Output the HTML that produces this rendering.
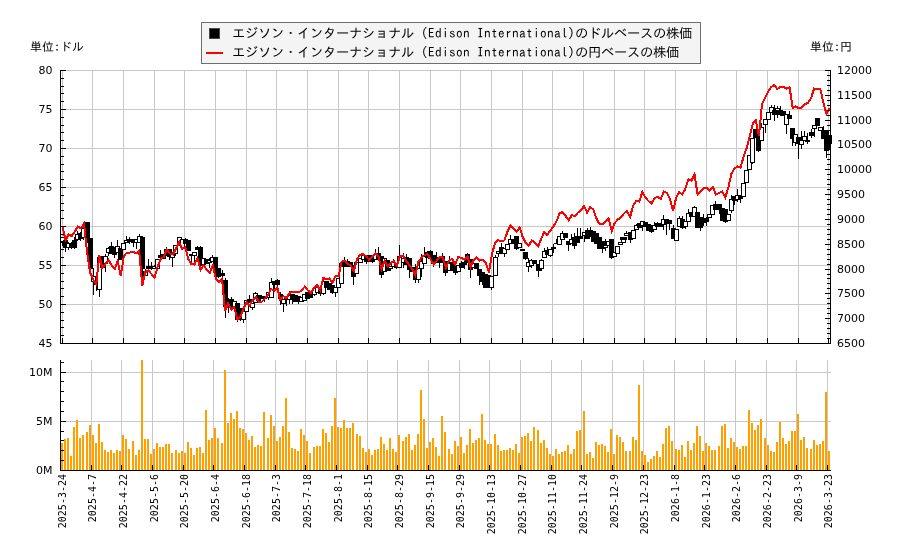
<!DOCTYPE html>
<html lang="ja"><head><meta charset="utf-8"><title>Edison International</title>
<style>
html,body{margin:0;padding:0;background:#fff;}
#c{position:relative;width:900px;height:550px;overflow:hidden;background:#fff;font-family:"DejaVu Sans","Liberation Sans",sans-serif;color:#000;}
#c svg{position:absolute;left:0;top:0;}
.tl,.tr{position:absolute;font-size:11px;line-height:14px;height:14px;white-space:nowrap;}
.tl{right:847.5px;text-align:right;}
.tr{left:837px;}
.dt{position:absolute;top:474px;font-family:"DejaVu Sans Mono","Liberation Mono",monospace;font-size:10px;line-height:10px;height:10px;white-space:nowrap;transform-origin:0 0;transform:rotate(-90deg) translate(-100%,-50%);}
.jp{position:absolute;font-family:"IPAGothic","Liberation Sans","Noto Sans CJK JP",sans-serif;font-size:12px;line-height:14px;white-space:nowrap;}
#lg{position:absolute;left:201px;top:22px;width:498px;height:40px;border:1px solid #6e6e6e;background:#f4f4f4;}
.lt{position:absolute;left:232px;font-family:"IPAGothic","Liberation Sans","Noto Sans CJK JP",sans-serif;font-size:13.33px;line-height:16px;white-space:nowrap;letter-spacing:-0.33px;}
.lt .en{letter-spacing:0.335px;}
#txt{position:absolute;left:0;top:0;width:900px;height:550px;will-change:transform;}
</style></head><body>
<div id="c">
<svg width="900" height="550" viewBox="0 0 900 550" shape-rendering="crispEdges">
<rect x="60" y="70" width="771" height="1" fill="#c8c8c8"/>
<rect x="60" y="109" width="771" height="1" fill="#c8c8c8"/>
<rect x="60" y="148" width="771" height="1" fill="#c8c8c8"/>
<rect x="60" y="187" width="771" height="1" fill="#c8c8c8"/>
<rect x="60" y="226" width="771" height="1" fill="#c8c8c8"/>
<rect x="60" y="265" width="771" height="1" fill="#c8c8c8"/>
<rect x="60" y="304" width="771" height="1" fill="#c8c8c8"/>
<rect x="60" y="343" width="771" height="1" fill="#c8c8c8"/>
<rect x="62" y="70" width="1" height="273" fill="#c8c8c8"/>
<rect x="92" y="70" width="1" height="273" fill="#c8c8c8"/>
<rect x="123" y="70" width="1" height="273" fill="#c8c8c8"/>
<rect x="154" y="70" width="1" height="273" fill="#c8c8c8"/>
<rect x="184" y="70" width="1" height="273" fill="#c8c8c8"/>
<rect x="215" y="70" width="1" height="273" fill="#c8c8c8"/>
<rect x="246" y="70" width="1" height="273" fill="#c8c8c8"/>
<rect x="276" y="70" width="1" height="273" fill="#c8c8c8"/>
<rect x="307" y="70" width="1" height="273" fill="#c8c8c8"/>
<rect x="338" y="70" width="1" height="273" fill="#c8c8c8"/>
<rect x="368" y="70" width="1" height="273" fill="#c8c8c8"/>
<rect x="399" y="70" width="1" height="273" fill="#c8c8c8"/>
<rect x="430" y="70" width="1" height="273" fill="#c8c8c8"/>
<rect x="460" y="70" width="1" height="273" fill="#c8c8c8"/>
<rect x="491" y="70" width="1" height="273" fill="#c8c8c8"/>
<rect x="522" y="70" width="1" height="273" fill="#c8c8c8"/>
<rect x="552" y="70" width="1" height="273" fill="#c8c8c8"/>
<rect x="583" y="70" width="1" height="273" fill="#c8c8c8"/>
<rect x="614" y="70" width="1" height="273" fill="#c8c8c8"/>
<rect x="644" y="70" width="1" height="273" fill="#c8c8c8"/>
<rect x="675" y="70" width="1" height="273" fill="#c8c8c8"/>
<rect x="706" y="70" width="1" height="273" fill="#c8c8c8"/>
<rect x="736" y="70" width="1" height="273" fill="#c8c8c8"/>
<rect x="767" y="70" width="1" height="273" fill="#c8c8c8"/>
<rect x="798" y="70" width="1" height="273" fill="#c8c8c8"/>
<rect x="828" y="70" width="1" height="273" fill="#c8c8c8"/>
<rect x="60" y="372" width="771" height="1" fill="#c8c8c8"/>
<rect x="60" y="421" width="771" height="1" fill="#c8c8c8"/>
<rect x="60" y="360" width="1" height="110" fill="#c8c8c8"/>
<rect x="91" y="360" width="1" height="110" fill="#c8c8c8"/>
<rect x="121" y="360" width="1" height="110" fill="#c8c8c8"/>
<rect x="152" y="360" width="1" height="110" fill="#c8c8c8"/>
<rect x="183" y="360" width="1" height="110" fill="#c8c8c8"/>
<rect x="213" y="360" width="1" height="110" fill="#c8c8c8"/>
<rect x="244" y="360" width="1" height="110" fill="#c8c8c8"/>
<rect x="275" y="360" width="1" height="110" fill="#c8c8c8"/>
<rect x="305" y="360" width="1" height="110" fill="#c8c8c8"/>
<rect x="336" y="360" width="1" height="110" fill="#c8c8c8"/>
<rect x="367" y="360" width="1" height="110" fill="#c8c8c8"/>
<rect x="397" y="360" width="1" height="110" fill="#c8c8c8"/>
<rect x="428" y="360" width="1" height="110" fill="#c8c8c8"/>
<rect x="459" y="360" width="1" height="110" fill="#c8c8c8"/>
<rect x="489" y="360" width="1" height="110" fill="#c8c8c8"/>
<rect x="520" y="360" width="1" height="110" fill="#c8c8c8"/>
<rect x="551" y="360" width="1" height="110" fill="#c8c8c8"/>
<rect x="581" y="360" width="1" height="110" fill="#c8c8c8"/>
<rect x="612" y="360" width="1" height="110" fill="#c8c8c8"/>
<rect x="643" y="360" width="1" height="110" fill="#c8c8c8"/>
<rect x="674" y="360" width="1" height="110" fill="#c8c8c8"/>
<rect x="704" y="360" width="1" height="110" fill="#c8c8c8"/>
<rect x="735" y="360" width="1" height="110" fill="#c8c8c8"/>
<rect x="766" y="360" width="1" height="110" fill="#c8c8c8"/>
<rect x="796" y="360" width="1" height="110" fill="#c8c8c8"/>
<rect x="827" y="360" width="1" height="110" fill="#c8c8c8"/>
<rect x="61" y="443" width="2" height="27" fill="#ffa000"/>
<rect x="64" y="439" width="2" height="31" fill="#ffa000"/>
<rect x="67" y="438" width="2" height="32" fill="#ffa000"/>
<rect x="70" y="456" width="2" height="14" fill="#ffa000"/>
<rect x="73" y="427" width="2" height="43" fill="#ffa000"/>
<rect x="76" y="420" width="2" height="50" fill="#ffa000"/>
<rect x="79" y="438" width="2" height="32" fill="#ffa000"/>
<rect x="82" y="435" width="2" height="35" fill="#ffa000"/>
<rect x="86" y="432" width="2" height="38" fill="#ffa000"/>
<rect x="89" y="425" width="2" height="45" fill="#ffa000"/>
<rect x="92" y="435" width="2" height="35" fill="#ffa000"/>
<rect x="95" y="443" width="2" height="27" fill="#ffa000"/>
<rect x="98" y="424" width="2" height="46" fill="#ffa000"/>
<rect x="101" y="442" width="2" height="28" fill="#ffa000"/>
<rect x="104" y="450" width="2" height="20" fill="#ffa000"/>
<rect x="107" y="452" width="2" height="18" fill="#ffa000"/>
<rect x="110" y="450" width="2" height="20" fill="#ffa000"/>
<rect x="113" y="453" width="2" height="17" fill="#ffa000"/>
<rect x="116" y="450" width="2" height="20" fill="#ffa000"/>
<rect x="119" y="451" width="2" height="19" fill="#ffa000"/>
<rect x="122" y="435" width="2" height="35" fill="#ffa000"/>
<rect x="125" y="439" width="2" height="31" fill="#ffa000"/>
<rect x="128" y="449" width="2" height="21" fill="#ffa000"/>
<rect x="132" y="441" width="2" height="29" fill="#ffa000"/>
<rect x="135" y="455" width="2" height="15" fill="#ffa000"/>
<rect x="138" y="450" width="2" height="20" fill="#ffa000"/>
<rect x="141" y="360" width="2" height="110" fill="#ffa000"/>
<rect x="144" y="439" width="2" height="31" fill="#ffa000"/>
<rect x="147" y="439" width="2" height="31" fill="#ffa000"/>
<rect x="150" y="454" width="2" height="16" fill="#ffa000"/>
<rect x="153" y="449" width="2" height="21" fill="#ffa000"/>
<rect x="156" y="443" width="2" height="27" fill="#ffa000"/>
<rect x="159" y="447" width="2" height="23" fill="#ffa000"/>
<rect x="162" y="447" width="2" height="23" fill="#ffa000"/>
<rect x="165" y="444" width="2" height="26" fill="#ffa000"/>
<rect x="168" y="444" width="2" height="26" fill="#ffa000"/>
<rect x="171" y="453" width="2" height="17" fill="#ffa000"/>
<rect x="175" y="450" width="2" height="20" fill="#ffa000"/>
<rect x="178" y="453" width="2" height="17" fill="#ffa000"/>
<rect x="181" y="451" width="2" height="19" fill="#ffa000"/>
<rect x="184" y="453" width="2" height="17" fill="#ffa000"/>
<rect x="187" y="442" width="2" height="28" fill="#ffa000"/>
<rect x="190" y="448" width="2" height="22" fill="#ffa000"/>
<rect x="193" y="455" width="2" height="15" fill="#ffa000"/>
<rect x="196" y="448" width="2" height="22" fill="#ffa000"/>
<rect x="199" y="447" width="2" height="23" fill="#ffa000"/>
<rect x="202" y="453" width="2" height="17" fill="#ffa000"/>
<rect x="205" y="410" width="2" height="60" fill="#ffa000"/>
<rect x="208" y="440" width="2" height="30" fill="#ffa000"/>
<rect x="211" y="438" width="2" height="32" fill="#ffa000"/>
<rect x="214" y="428" width="2" height="42" fill="#ffa000"/>
<rect x="217" y="438" width="2" height="32" fill="#ffa000"/>
<rect x="221" y="443" width="2" height="27" fill="#ffa000"/>
<rect x="224" y="370" width="2" height="100" fill="#ffa000"/>
<rect x="227" y="423" width="2" height="47" fill="#ffa000"/>
<rect x="230" y="413" width="2" height="57" fill="#ffa000"/>
<rect x="233" y="419" width="2" height="51" fill="#ffa000"/>
<rect x="236" y="411" width="2" height="59" fill="#ffa000"/>
<rect x="239" y="428" width="2" height="42" fill="#ffa000"/>
<rect x="242" y="429" width="2" height="41" fill="#ffa000"/>
<rect x="245" y="433" width="2" height="37" fill="#ffa000"/>
<rect x="248" y="440" width="2" height="30" fill="#ffa000"/>
<rect x="251" y="436" width="2" height="34" fill="#ffa000"/>
<rect x="254" y="447" width="2" height="23" fill="#ffa000"/>
<rect x="257" y="445" width="2" height="25" fill="#ffa000"/>
<rect x="260" y="446" width="2" height="24" fill="#ffa000"/>
<rect x="263" y="412" width="2" height="58" fill="#ffa000"/>
<rect x="267" y="438" width="2" height="32" fill="#ffa000"/>
<rect x="270" y="415" width="2" height="55" fill="#ffa000"/>
<rect x="273" y="426" width="2" height="44" fill="#ffa000"/>
<rect x="276" y="441" width="2" height="29" fill="#ffa000"/>
<rect x="279" y="437" width="2" height="33" fill="#ffa000"/>
<rect x="282" y="426" width="2" height="44" fill="#ffa000"/>
<rect x="285" y="398" width="2" height="72" fill="#ffa000"/>
<rect x="288" y="432" width="2" height="38" fill="#ffa000"/>
<rect x="291" y="448" width="2" height="22" fill="#ffa000"/>
<rect x="294" y="449" width="2" height="21" fill="#ffa000"/>
<rect x="297" y="451" width="2" height="19" fill="#ffa000"/>
<rect x="300" y="429" width="2" height="41" fill="#ffa000"/>
<rect x="303" y="435" width="2" height="35" fill="#ffa000"/>
<rect x="306" y="441" width="2" height="29" fill="#ffa000"/>
<rect x="309" y="453" width="2" height="17" fill="#ffa000"/>
<rect x="313" y="447" width="2" height="23" fill="#ffa000"/>
<rect x="316" y="446" width="2" height="24" fill="#ffa000"/>
<rect x="319" y="446" width="2" height="24" fill="#ffa000"/>
<rect x="322" y="429" width="2" height="41" fill="#ffa000"/>
<rect x="325" y="433" width="2" height="37" fill="#ffa000"/>
<rect x="328" y="442" width="2" height="28" fill="#ffa000"/>
<rect x="331" y="426" width="2" height="44" fill="#ffa000"/>
<rect x="334" y="398" width="2" height="72" fill="#ffa000"/>
<rect x="337" y="427" width="2" height="43" fill="#ffa000"/>
<rect x="340" y="428" width="2" height="42" fill="#ffa000"/>
<rect x="343" y="420" width="2" height="50" fill="#ffa000"/>
<rect x="346" y="428" width="2" height="42" fill="#ffa000"/>
<rect x="349" y="428" width="2" height="42" fill="#ffa000"/>
<rect x="352" y="423" width="2" height="47" fill="#ffa000"/>
<rect x="356" y="434" width="2" height="36" fill="#ffa000"/>
<rect x="359" y="436" width="2" height="34" fill="#ffa000"/>
<rect x="362" y="448" width="2" height="22" fill="#ffa000"/>
<rect x="365" y="452" width="2" height="18" fill="#ffa000"/>
<rect x="368" y="449" width="2" height="21" fill="#ffa000"/>
<rect x="371" y="455" width="2" height="15" fill="#ffa000"/>
<rect x="374" y="450" width="2" height="20" fill="#ffa000"/>
<rect x="377" y="449" width="2" height="21" fill="#ffa000"/>
<rect x="380" y="437" width="2" height="33" fill="#ffa000"/>
<rect x="383" y="444" width="2" height="26" fill="#ffa000"/>
<rect x="386" y="450" width="2" height="20" fill="#ffa000"/>
<rect x="389" y="438" width="2" height="32" fill="#ffa000"/>
<rect x="392" y="449" width="2" height="21" fill="#ffa000"/>
<rect x="395" y="452" width="2" height="18" fill="#ffa000"/>
<rect x="398" y="435" width="2" height="35" fill="#ffa000"/>
<rect x="402" y="441" width="2" height="29" fill="#ffa000"/>
<rect x="405" y="437" width="2" height="33" fill="#ffa000"/>
<rect x="408" y="434" width="2" height="36" fill="#ffa000"/>
<rect x="411" y="450" width="2" height="20" fill="#ffa000"/>
<rect x="414" y="445" width="2" height="25" fill="#ffa000"/>
<rect x="417" y="434" width="2" height="36" fill="#ffa000"/>
<rect x="420" y="390" width="2" height="80" fill="#ffa000"/>
<rect x="423" y="419" width="2" height="51" fill="#ffa000"/>
<rect x="426" y="448" width="2" height="22" fill="#ffa000"/>
<rect x="429" y="442" width="2" height="28" fill="#ffa000"/>
<rect x="432" y="438" width="2" height="32" fill="#ffa000"/>
<rect x="435" y="447" width="2" height="23" fill="#ffa000"/>
<rect x="438" y="456" width="2" height="14" fill="#ffa000"/>
<rect x="441" y="416" width="2" height="54" fill="#ffa000"/>
<rect x="444" y="432" width="2" height="38" fill="#ffa000"/>
<rect x="448" y="449" width="2" height="21" fill="#ffa000"/>
<rect x="451" y="454" width="2" height="16" fill="#ffa000"/>
<rect x="454" y="441" width="2" height="29" fill="#ffa000"/>
<rect x="457" y="446" width="2" height="24" fill="#ffa000"/>
<rect x="460" y="437" width="2" height="33" fill="#ffa000"/>
<rect x="463" y="453" width="2" height="17" fill="#ffa000"/>
<rect x="466" y="445" width="2" height="25" fill="#ffa000"/>
<rect x="469" y="429" width="2" height="41" fill="#ffa000"/>
<rect x="472" y="443" width="2" height="27" fill="#ffa000"/>
<rect x="475" y="440" width="2" height="30" fill="#ffa000"/>
<rect x="478" y="438" width="2" height="32" fill="#ffa000"/>
<rect x="481" y="414" width="2" height="56" fill="#ffa000"/>
<rect x="484" y="440" width="2" height="30" fill="#ffa000"/>
<rect x="487" y="444" width="2" height="26" fill="#ffa000"/>
<rect x="490" y="444" width="2" height="26" fill="#ffa000"/>
<rect x="494" y="434" width="2" height="36" fill="#ffa000"/>
<rect x="497" y="445" width="2" height="25" fill="#ffa000"/>
<rect x="500" y="451" width="2" height="19" fill="#ffa000"/>
<rect x="503" y="450" width="2" height="20" fill="#ffa000"/>
<rect x="506" y="450" width="2" height="20" fill="#ffa000"/>
<rect x="509" y="448" width="2" height="22" fill="#ffa000"/>
<rect x="512" y="450" width="2" height="20" fill="#ffa000"/>
<rect x="515" y="444" width="2" height="26" fill="#ffa000"/>
<rect x="518" y="453" width="2" height="17" fill="#ffa000"/>
<rect x="521" y="437" width="2" height="33" fill="#ffa000"/>
<rect x="524" y="436" width="2" height="34" fill="#ffa000"/>
<rect x="527" y="433" width="2" height="37" fill="#ffa000"/>
<rect x="530" y="441" width="2" height="29" fill="#ffa000"/>
<rect x="533" y="427" width="2" height="43" fill="#ffa000"/>
<rect x="537" y="430" width="2" height="40" fill="#ffa000"/>
<rect x="540" y="443" width="2" height="27" fill="#ffa000"/>
<rect x="543" y="440" width="2" height="30" fill="#ffa000"/>
<rect x="546" y="448" width="2" height="22" fill="#ffa000"/>
<rect x="549" y="454" width="2" height="16" fill="#ffa000"/>
<rect x="552" y="456" width="2" height="14" fill="#ffa000"/>
<rect x="555" y="449" width="2" height="21" fill="#ffa000"/>
<rect x="558" y="454" width="2" height="16" fill="#ffa000"/>
<rect x="561" y="452" width="2" height="18" fill="#ffa000"/>
<rect x="564" y="451" width="2" height="19" fill="#ffa000"/>
<rect x="567" y="445" width="2" height="25" fill="#ffa000"/>
<rect x="570" y="454" width="2" height="16" fill="#ffa000"/>
<rect x="573" y="449" width="2" height="21" fill="#ffa000"/>
<rect x="576" y="431" width="2" height="39" fill="#ffa000"/>
<rect x="579" y="430" width="2" height="40" fill="#ffa000"/>
<rect x="583" y="411" width="2" height="59" fill="#ffa000"/>
<rect x="586" y="454" width="2" height="16" fill="#ffa000"/>
<rect x="589" y="452" width="2" height="18" fill="#ffa000"/>
<rect x="592" y="458" width="2" height="12" fill="#ffa000"/>
<rect x="595" y="442" width="2" height="28" fill="#ffa000"/>
<rect x="598" y="445" width="2" height="25" fill="#ffa000"/>
<rect x="601" y="444" width="2" height="26" fill="#ffa000"/>
<rect x="604" y="446" width="2" height="24" fill="#ffa000"/>
<rect x="607" y="452" width="2" height="18" fill="#ffa000"/>
<rect x="610" y="429" width="2" height="41" fill="#ffa000"/>
<rect x="613" y="454" width="2" height="16" fill="#ffa000"/>
<rect x="616" y="435" width="2" height="35" fill="#ffa000"/>
<rect x="619" y="437" width="2" height="33" fill="#ffa000"/>
<rect x="622" y="442" width="2" height="28" fill="#ffa000"/>
<rect x="625" y="451" width="2" height="19" fill="#ffa000"/>
<rect x="629" y="451" width="2" height="19" fill="#ffa000"/>
<rect x="632" y="437" width="2" height="33" fill="#ffa000"/>
<rect x="635" y="440" width="2" height="30" fill="#ffa000"/>
<rect x="638" y="385" width="2" height="85" fill="#ffa000"/>
<rect x="641" y="451" width="2" height="19" fill="#ffa000"/>
<rect x="644" y="455" width="2" height="15" fill="#ffa000"/>
<rect x="647" y="462" width="2" height="8" fill="#ffa000"/>
<rect x="650" y="459" width="2" height="11" fill="#ffa000"/>
<rect x="653" y="456" width="2" height="14" fill="#ffa000"/>
<rect x="656" y="451" width="2" height="19" fill="#ffa000"/>
<rect x="659" y="457" width="2" height="13" fill="#ffa000"/>
<rect x="662" y="444" width="2" height="26" fill="#ffa000"/>
<rect x="665" y="428" width="2" height="42" fill="#ffa000"/>
<rect x="668" y="426" width="2" height="44" fill="#ffa000"/>
<rect x="671" y="441" width="2" height="29" fill="#ffa000"/>
<rect x="675" y="449" width="2" height="21" fill="#ffa000"/>
<rect x="678" y="450" width="2" height="20" fill="#ffa000"/>
<rect x="681" y="445" width="2" height="25" fill="#ffa000"/>
<rect x="684" y="457" width="2" height="13" fill="#ffa000"/>
<rect x="687" y="441" width="2" height="29" fill="#ffa000"/>
<rect x="690" y="450" width="2" height="20" fill="#ffa000"/>
<rect x="693" y="443" width="2" height="27" fill="#ffa000"/>
<rect x="696" y="426" width="2" height="44" fill="#ffa000"/>
<rect x="699" y="436" width="2" height="34" fill="#ffa000"/>
<rect x="702" y="451" width="2" height="19" fill="#ffa000"/>
<rect x="705" y="443" width="2" height="27" fill="#ffa000"/>
<rect x="708" y="446" width="2" height="24" fill="#ffa000"/>
<rect x="711" y="450" width="2" height="20" fill="#ffa000"/>
<rect x="714" y="450" width="2" height="20" fill="#ffa000"/>
<rect x="718" y="446" width="2" height="24" fill="#ffa000"/>
<rect x="721" y="426" width="2" height="44" fill="#ffa000"/>
<rect x="724" y="424" width="2" height="46" fill="#ffa000"/>
<rect x="727" y="448" width="2" height="22" fill="#ffa000"/>
<rect x="730" y="438" width="2" height="32" fill="#ffa000"/>
<rect x="733" y="442" width="2" height="28" fill="#ffa000"/>
<rect x="736" y="447" width="2" height="23" fill="#ffa000"/>
<rect x="739" y="449" width="2" height="21" fill="#ffa000"/>
<rect x="742" y="446" width="2" height="24" fill="#ffa000"/>
<rect x="745" y="446" width="2" height="24" fill="#ffa000"/>
<rect x="748" y="410" width="2" height="60" fill="#ffa000"/>
<rect x="751" y="423" width="2" height="47" fill="#ffa000"/>
<rect x="754" y="430" width="2" height="40" fill="#ffa000"/>
<rect x="757" y="425" width="2" height="45" fill="#ffa000"/>
<rect x="760" y="419" width="2" height="51" fill="#ffa000"/>
<rect x="764" y="438" width="2" height="32" fill="#ffa000"/>
<rect x="767" y="445" width="2" height="25" fill="#ffa000"/>
<rect x="770" y="451" width="2" height="19" fill="#ffa000"/>
<rect x="773" y="452" width="2" height="18" fill="#ffa000"/>
<rect x="776" y="442" width="2" height="28" fill="#ffa000"/>
<rect x="779" y="422" width="2" height="48" fill="#ffa000"/>
<rect x="782" y="438" width="2" height="32" fill="#ffa000"/>
<rect x="785" y="444" width="2" height="26" fill="#ffa000"/>
<rect x="788" y="441" width="2" height="29" fill="#ffa000"/>
<rect x="791" y="431" width="2" height="39" fill="#ffa000"/>
<rect x="794" y="431" width="2" height="39" fill="#ffa000"/>
<rect x="797" y="414" width="2" height="56" fill="#ffa000"/>
<rect x="800" y="440" width="2" height="30" fill="#ffa000"/>
<rect x="803" y="437" width="2" height="33" fill="#ffa000"/>
<rect x="806" y="448" width="2" height="22" fill="#ffa000"/>
<rect x="810" y="449" width="2" height="21" fill="#ffa000"/>
<rect x="813" y="440" width="2" height="30" fill="#ffa000"/>
<rect x="816" y="445" width="2" height="25" fill="#ffa000"/>
<rect x="819" y="444" width="2" height="26" fill="#ffa000"/>
<rect x="822" y="441" width="2" height="29" fill="#ffa000"/>
<rect x="825" y="392" width="2" height="78" fill="#ffa000"/>
<rect x="828" y="451" width="2" height="19" fill="#ffa000"/>
<rect x="62" y="237" width="1" height="9" fill="#000"/>
<rect x="60" y="237" width="5" height="5" fill="#000"/>
<rect x="61" y="238" width="3" height="3" fill="#fff"/>
<rect x="65" y="239" width="1" height="13" fill="#000"/>
<rect x="63" y="240" width="5" height="8" fill="#000"/>
<rect x="68" y="242" width="1" height="8" fill="#000"/>
<rect x="66" y="243" width="5" height="5" fill="#000"/>
<rect x="67" y="244" width="3" height="3" fill="#fff"/>
<rect x="71" y="242" width="1" height="7" fill="#000"/>
<rect x="69" y="243" width="5" height="5" fill="#000"/>
<rect x="74" y="237" width="1" height="12" fill="#000"/>
<rect x="72" y="240" width="5" height="8" fill="#000"/>
<rect x="77" y="231" width="1" height="10" fill="#000"/>
<rect x="75" y="234" width="5" height="6" fill="#000"/>
<rect x="76" y="235" width="3" height="4" fill="#fff"/>
<rect x="80" y="232" width="1" height="9" fill="#000"/>
<rect x="78" y="233" width="5" height="6" fill="#000"/>
<rect x="83" y="227" width="1" height="13" fill="#000"/>
<rect x="81" y="228" width="5" height="10" fill="#000"/>
<rect x="82" y="229" width="3" height="8" fill="#fff"/>
<rect x="87" y="222" width="1" height="21" fill="#000"/>
<rect x="85" y="222" width="5" height="19" fill="#000"/>
<rect x="90" y="238" width="1" height="33" fill="#000"/>
<rect x="88" y="238" width="5" height="31" fill="#000"/>
<rect x="93" y="268" width="1" height="27" fill="#000"/>
<rect x="91" y="276" width="5" height="6" fill="#000"/>
<rect x="92" y="277" width="3" height="4" fill="#fff"/>
<rect x="96" y="280" width="1" height="11" fill="#000"/>
<rect x="94" y="281" width="5" height="4" fill="#000"/>
<rect x="99" y="257" width="1" height="40" fill="#000"/>
<rect x="97" y="257" width="5" height="33" fill="#000"/>
<rect x="98" y="258" width="3" height="31" fill="#fff"/>
<rect x="102" y="256" width="1" height="12" fill="#000"/>
<rect x="100" y="256" width="5" height="12" fill="#000"/>
<rect x="105" y="254" width="1" height="18" fill="#000"/>
<rect x="103" y="256" width="5" height="8" fill="#000"/>
<rect x="104" y="257" width="3" height="6" fill="#fff"/>
<rect x="108" y="247" width="1" height="9" fill="#000"/>
<rect x="106" y="248" width="5" height="5" fill="#000"/>
<rect x="107" y="249" width="3" height="3" fill="#fff"/>
<rect x="111" y="242" width="1" height="12" fill="#000"/>
<rect x="109" y="246" width="5" height="8" fill="#000"/>
<rect x="114" y="247" width="1" height="11" fill="#000"/>
<rect x="112" y="247" width="5" height="8" fill="#000"/>
<rect x="117" y="240" width="1" height="13" fill="#000"/>
<rect x="115" y="246" width="5" height="7" fill="#000"/>
<rect x="116" y="247" width="3" height="5" fill="#fff"/>
<rect x="120" y="248" width="1" height="12" fill="#000"/>
<rect x="118" y="248" width="5" height="12" fill="#000"/>
<rect x="123" y="243" width="1" height="7" fill="#000"/>
<rect x="121" y="243" width="5" height="7" fill="#000"/>
<rect x="122" y="244" width="3" height="5" fill="#fff"/>
<rect x="126" y="236" width="1" height="7" fill="#000"/>
<rect x="124" y="240" width="5" height="3" fill="#000"/>
<rect x="125" y="241" width="3" height="1" fill="#fff"/>
<rect x="129" y="237" width="1" height="7" fill="#000"/>
<rect x="127" y="239" width="5" height="3" fill="#000"/>
<rect x="133" y="239" width="1" height="8" fill="#000"/>
<rect x="131" y="239" width="5" height="4" fill="#000"/>
<rect x="136" y="239" width="1" height="10" fill="#000"/>
<rect x="134" y="239" width="5" height="4" fill="#000"/>
<rect x="135" y="240" width="3" height="2" fill="#fff"/>
<rect x="139" y="234" width="1" height="9" fill="#000"/>
<rect x="137" y="236" width="5" height="7" fill="#000"/>
<rect x="138" y="237" width="3" height="5" fill="#fff"/>
<rect x="142" y="236" width="1" height="43" fill="#000"/>
<rect x="140" y="237" width="5" height="32" fill="#000"/>
<rect x="145" y="269" width="1" height="7" fill="#000"/>
<rect x="143" y="271" width="5" height="5" fill="#000"/>
<rect x="144" y="272" width="3" height="3" fill="#fff"/>
<rect x="148" y="259" width="1" height="10" fill="#000"/>
<rect x="146" y="266" width="5" height="3" fill="#000"/>
<rect x="151" y="262" width="1" height="8" fill="#000"/>
<rect x="149" y="266" width="5" height="3" fill="#000"/>
<rect x="154" y="265" width="1" height="4" fill="#000"/>
<rect x="152" y="266" width="5" height="3" fill="#000"/>
<rect x="153" y="267" width="3" height="1" fill="#fff"/>
<rect x="157" y="259" width="1" height="10" fill="#000"/>
<rect x="155" y="259" width="5" height="10" fill="#000"/>
<rect x="156" y="260" width="3" height="8" fill="#fff"/>
<rect x="160" y="250" width="1" height="8" fill="#000"/>
<rect x="158" y="255" width="5" height="3" fill="#000"/>
<rect x="163" y="254" width="1" height="5" fill="#000"/>
<rect x="161" y="254" width="5" height="5" fill="#000"/>
<rect x="166" y="247" width="1" height="9" fill="#000"/>
<rect x="164" y="249" width="5" height="7" fill="#000"/>
<rect x="169" y="249" width="1" height="11" fill="#000"/>
<rect x="167" y="249" width="5" height="8" fill="#000"/>
<rect x="172" y="252" width="1" height="15" fill="#000"/>
<rect x="170" y="252" width="5" height="6" fill="#000"/>
<rect x="171" y="253" width="3" height="4" fill="#fff"/>
<rect x="175" y="245" width="1" height="11" fill="#000"/>
<rect x="173" y="245" width="5" height="9" fill="#000"/>
<rect x="174" y="246" width="3" height="7" fill="#fff"/>
<rect x="179" y="237" width="1" height="9" fill="#000"/>
<rect x="177" y="237" width="5" height="9" fill="#000"/>
<rect x="178" y="238" width="3" height="7" fill="#fff"/>
<rect x="182" y="239" width="1" height="9" fill="#000"/>
<rect x="180" y="239" width="5" height="9" fill="#000"/>
<rect x="181" y="240" width="3" height="7" fill="#fff"/>
<rect x="185" y="238" width="1" height="6" fill="#000"/>
<rect x="183" y="239" width="5" height="5" fill="#000"/>
<rect x="188" y="240" width="1" height="11" fill="#000"/>
<rect x="186" y="240" width="5" height="11" fill="#000"/>
<rect x="191" y="254" width="1" height="10" fill="#000"/>
<rect x="189" y="254" width="5" height="2" fill="#000"/>
<rect x="194" y="252" width="1" height="12" fill="#000"/>
<rect x="192" y="252" width="5" height="4" fill="#000"/>
<rect x="193" y="253" width="3" height="2" fill="#fff"/>
<rect x="197" y="246" width="1" height="4" fill="#000"/>
<rect x="195" y="247" width="5" height="3" fill="#000"/>
<rect x="200" y="246" width="1" height="20" fill="#000"/>
<rect x="198" y="247" width="5" height="19" fill="#000"/>
<rect x="203" y="258" width="1" height="7" fill="#000"/>
<rect x="201" y="258" width="5" height="7" fill="#000"/>
<rect x="202" y="259" width="3" height="5" fill="#fff"/>
<rect x="206" y="259" width="1" height="5" fill="#000"/>
<rect x="204" y="259" width="5" height="5" fill="#000"/>
<rect x="209" y="258" width="1" height="10" fill="#000"/>
<rect x="207" y="260" width="5" height="3" fill="#000"/>
<rect x="208" y="261" width="3" height="1" fill="#fff"/>
<rect x="212" y="255" width="1" height="7" fill="#000"/>
<rect x="210" y="257" width="5" height="5" fill="#000"/>
<rect x="211" y="258" width="3" height="3" fill="#fff"/>
<rect x="215" y="257" width="1" height="16" fill="#000"/>
<rect x="213" y="257" width="5" height="16" fill="#000"/>
<rect x="218" y="268" width="1" height="10" fill="#000"/>
<rect x="216" y="268" width="5" height="9" fill="#000"/>
<rect x="222" y="270" width="1" height="7" fill="#000"/>
<rect x="220" y="273" width="5" height="3" fill="#000"/>
<rect x="225" y="278" width="1" height="40" fill="#000"/>
<rect x="223" y="280" width="5" height="27" fill="#000"/>
<rect x="228" y="298" width="1" height="15" fill="#000"/>
<rect x="226" y="299" width="5" height="5" fill="#000"/>
<rect x="231" y="297" width="1" height="11" fill="#000"/>
<rect x="229" y="299" width="5" height="9" fill="#000"/>
<rect x="234" y="301" width="1" height="6" fill="#000"/>
<rect x="232" y="301" width="5" height="6" fill="#000"/>
<rect x="233" y="302" width="3" height="4" fill="#fff"/>
<rect x="237" y="303" width="1" height="19" fill="#000"/>
<rect x="235" y="303" width="5" height="17" fill="#000"/>
<rect x="240" y="308" width="1" height="13" fill="#000"/>
<rect x="238" y="308" width="5" height="12" fill="#000"/>
<rect x="243" y="311" width="1" height="12" fill="#000"/>
<rect x="241" y="311" width="5" height="9" fill="#000"/>
<rect x="242" y="312" width="3" height="7" fill="#fff"/>
<rect x="246" y="300" width="1" height="12" fill="#000"/>
<rect x="244" y="300" width="5" height="12" fill="#000"/>
<rect x="245" y="301" width="3" height="10" fill="#fff"/>
<rect x="249" y="295" width="1" height="8" fill="#000"/>
<rect x="247" y="299" width="5" height="4" fill="#000"/>
<rect x="252" y="303" width="1" height="7" fill="#000"/>
<rect x="250" y="303" width="5" height="5" fill="#000"/>
<rect x="251" y="304" width="3" height="3" fill="#fff"/>
<rect x="255" y="292" width="1" height="11" fill="#000"/>
<rect x="253" y="293" width="5" height="10" fill="#000"/>
<rect x="254" y="294" width="3" height="8" fill="#fff"/>
<rect x="258" y="295" width="1" height="6" fill="#000"/>
<rect x="256" y="295" width="5" height="6" fill="#000"/>
<rect x="261" y="295" width="1" height="4" fill="#000"/>
<rect x="259" y="296" width="5" height="3" fill="#000"/>
<rect x="264" y="296" width="1" height="6" fill="#000"/>
<rect x="262" y="296" width="5" height="3" fill="#000"/>
<rect x="268" y="292" width="1" height="8" fill="#000"/>
<rect x="266" y="292" width="5" height="6" fill="#000"/>
<rect x="267" y="293" width="3" height="4" fill="#fff"/>
<rect x="271" y="278" width="1" height="20" fill="#000"/>
<rect x="269" y="282" width="5" height="16" fill="#000"/>
<rect x="270" y="283" width="3" height="14" fill="#fff"/>
<rect x="274" y="281" width="1" height="8" fill="#000"/>
<rect x="272" y="281" width="5" height="4" fill="#000"/>
<rect x="277" y="279" width="1" height="9" fill="#000"/>
<rect x="275" y="280" width="5" height="5" fill="#000"/>
<rect x="280" y="292" width="1" height="13" fill="#000"/>
<rect x="278" y="294" width="5" height="5" fill="#000"/>
<rect x="283" y="299" width="1" height="13" fill="#000"/>
<rect x="281" y="299" width="5" height="5" fill="#000"/>
<rect x="282" y="300" width="3" height="3" fill="#fff"/>
<rect x="286" y="296" width="1" height="10" fill="#000"/>
<rect x="284" y="296" width="5" height="4" fill="#000"/>
<rect x="289" y="291" width="1" height="13" fill="#000"/>
<rect x="287" y="295" width="5" height="5" fill="#000"/>
<rect x="288" y="296" width="3" height="3" fill="#fff"/>
<rect x="292" y="294" width="1" height="10" fill="#000"/>
<rect x="290" y="294" width="5" height="5" fill="#000"/>
<rect x="295" y="295" width="1" height="7" fill="#000"/>
<rect x="293" y="295" width="5" height="7" fill="#000"/>
<rect x="298" y="296" width="1" height="8" fill="#000"/>
<rect x="296" y="296" width="5" height="6" fill="#000"/>
<rect x="301" y="297" width="1" height="5" fill="#000"/>
<rect x="299" y="297" width="5" height="5" fill="#000"/>
<rect x="300" y="298" width="3" height="3" fill="#fff"/>
<rect x="304" y="294" width="1" height="7" fill="#000"/>
<rect x="302" y="294" width="5" height="7" fill="#000"/>
<rect x="303" y="295" width="3" height="5" fill="#fff"/>
<rect x="307" y="292" width="1" height="7" fill="#000"/>
<rect x="305" y="292" width="5" height="7" fill="#000"/>
<rect x="310" y="292" width="1" height="6" fill="#000"/>
<rect x="308" y="292" width="5" height="6" fill="#000"/>
<rect x="314" y="288" width="1" height="8" fill="#000"/>
<rect x="312" y="288" width="5" height="7" fill="#000"/>
<rect x="313" y="289" width="3" height="5" fill="#fff"/>
<rect x="317" y="287" width="1" height="6" fill="#000"/>
<rect x="315" y="287" width="5" height="6" fill="#000"/>
<rect x="316" y="288" width="3" height="4" fill="#fff"/>
<rect x="320" y="288" width="1" height="8" fill="#000"/>
<rect x="318" y="288" width="5" height="6" fill="#000"/>
<rect x="323" y="281" width="1" height="14" fill="#000"/>
<rect x="321" y="281" width="5" height="13" fill="#000"/>
<rect x="322" y="282" width="3" height="11" fill="#fff"/>
<rect x="326" y="281" width="1" height="7" fill="#000"/>
<rect x="324" y="281" width="5" height="7" fill="#000"/>
<rect x="329" y="283" width="1" height="7" fill="#000"/>
<rect x="327" y="283" width="5" height="7" fill="#000"/>
<rect x="332" y="285" width="1" height="9" fill="#000"/>
<rect x="330" y="285" width="5" height="8" fill="#000"/>
<rect x="335" y="287" width="1" height="10" fill="#000"/>
<rect x="333" y="287" width="5" height="6" fill="#000"/>
<rect x="334" y="288" width="3" height="4" fill="#fff"/>
<rect x="338" y="278" width="1" height="10" fill="#000"/>
<rect x="336" y="278" width="5" height="10" fill="#000"/>
<rect x="337" y="279" width="3" height="8" fill="#fff"/>
<rect x="341" y="263" width="1" height="21" fill="#000"/>
<rect x="339" y="263" width="5" height="21" fill="#000"/>
<rect x="340" y="264" width="3" height="19" fill="#fff"/>
<rect x="344" y="257" width="1" height="10" fill="#000"/>
<rect x="342" y="261" width="5" height="6" fill="#000"/>
<rect x="347" y="259" width="1" height="8" fill="#000"/>
<rect x="345" y="261" width="5" height="6" fill="#000"/>
<rect x="350" y="262" width="1" height="5" fill="#000"/>
<rect x="348" y="262" width="5" height="5" fill="#000"/>
<rect x="353" y="265" width="1" height="20" fill="#000"/>
<rect x="351" y="265" width="5" height="12" fill="#000"/>
<rect x="356" y="262" width="1" height="12" fill="#000"/>
<rect x="354" y="262" width="5" height="12" fill="#000"/>
<rect x="355" y="263" width="3" height="10" fill="#fff"/>
<rect x="360" y="258" width="1" height="5" fill="#000"/>
<rect x="358" y="258" width="5" height="5" fill="#000"/>
<rect x="359" y="259" width="3" height="3" fill="#fff"/>
<rect x="363" y="255" width="1" height="5" fill="#000"/>
<rect x="361" y="255" width="5" height="5" fill="#000"/>
<rect x="362" y="256" width="3" height="3" fill="#fff"/>
<rect x="366" y="255" width="1" height="9" fill="#000"/>
<rect x="364" y="255" width="5" height="7" fill="#000"/>
<rect x="369" y="255" width="1" height="7" fill="#000"/>
<rect x="367" y="255" width="5" height="7" fill="#000"/>
<rect x="372" y="257" width="1" height="6" fill="#000"/>
<rect x="370" y="257" width="5" height="5" fill="#000"/>
<rect x="375" y="249" width="1" height="11" fill="#000"/>
<rect x="373" y="254" width="5" height="6" fill="#000"/>
<rect x="374" y="255" width="3" height="4" fill="#fff"/>
<rect x="378" y="247" width="1" height="13" fill="#000"/>
<rect x="376" y="253" width="5" height="7" fill="#000"/>
<rect x="381" y="256" width="1" height="22" fill="#000"/>
<rect x="379" y="256" width="5" height="19" fill="#000"/>
<rect x="384" y="258" width="1" height="14" fill="#000"/>
<rect x="382" y="258" width="5" height="14" fill="#000"/>
<rect x="383" y="259" width="3" height="12" fill="#fff"/>
<rect x="387" y="260" width="1" height="11" fill="#000"/>
<rect x="385" y="260" width="5" height="11" fill="#000"/>
<rect x="390" y="266" width="1" height="5" fill="#000"/>
<rect x="388" y="266" width="5" height="3" fill="#000"/>
<rect x="389" y="267" width="3" height="1" fill="#fff"/>
<rect x="393" y="259" width="1" height="8" fill="#000"/>
<rect x="391" y="262" width="5" height="5" fill="#000"/>
<rect x="392" y="263" width="3" height="3" fill="#fff"/>
<rect x="396" y="264" width="1" height="5" fill="#000"/>
<rect x="394" y="264" width="5" height="4" fill="#000"/>
<rect x="399" y="245" width="1" height="23" fill="#000"/>
<rect x="397" y="256" width="5" height="12" fill="#000"/>
<rect x="398" y="257" width="3" height="10" fill="#fff"/>
<rect x="403" y="253" width="1" height="15" fill="#000"/>
<rect x="401" y="258" width="5" height="5" fill="#000"/>
<rect x="402" y="259" width="3" height="3" fill="#fff"/>
<rect x="406" y="254" width="1" height="11" fill="#000"/>
<rect x="404" y="257" width="5" height="8" fill="#000"/>
<rect x="409" y="258" width="1" height="20" fill="#000"/>
<rect x="407" y="258" width="5" height="12" fill="#000"/>
<rect x="412" y="267" width="1" height="5" fill="#000"/>
<rect x="410" y="267" width="5" height="5" fill="#000"/>
<rect x="415" y="264" width="1" height="19" fill="#000"/>
<rect x="413" y="267" width="5" height="13" fill="#000"/>
<rect x="418" y="268" width="1" height="15" fill="#000"/>
<rect x="416" y="268" width="5" height="12" fill="#000"/>
<rect x="417" y="269" width="3" height="10" fill="#fff"/>
<rect x="421" y="254" width="1" height="23" fill="#000"/>
<rect x="419" y="261" width="5" height="8" fill="#000"/>
<rect x="420" y="262" width="3" height="6" fill="#fff"/>
<rect x="424" y="247" width="1" height="17" fill="#000"/>
<rect x="422" y="256" width="5" height="8" fill="#000"/>
<rect x="423" y="257" width="3" height="6" fill="#fff"/>
<rect x="427" y="251" width="1" height="7" fill="#000"/>
<rect x="425" y="252" width="5" height="6" fill="#000"/>
<rect x="430" y="250" width="1" height="9" fill="#000"/>
<rect x="428" y="251" width="5" height="8" fill="#000"/>
<rect x="433" y="255" width="1" height="12" fill="#000"/>
<rect x="431" y="255" width="5" height="9" fill="#000"/>
<rect x="436" y="252" width="1" height="11" fill="#000"/>
<rect x="434" y="257" width="5" height="6" fill="#000"/>
<rect x="439" y="257" width="1" height="11" fill="#000"/>
<rect x="437" y="257" width="5" height="3" fill="#000"/>
<rect x="442" y="253" width="1" height="10" fill="#000"/>
<rect x="440" y="256" width="5" height="7" fill="#000"/>
<rect x="445" y="261" width="1" height="15" fill="#000"/>
<rect x="443" y="261" width="5" height="12" fill="#000"/>
<rect x="449" y="256" width="1" height="15" fill="#000"/>
<rect x="447" y="263" width="5" height="8" fill="#000"/>
<rect x="448" y="264" width="3" height="6" fill="#fff"/>
<rect x="452" y="262" width="1" height="9" fill="#000"/>
<rect x="450" y="262" width="5" height="9" fill="#000"/>
<rect x="455" y="265" width="1" height="10" fill="#000"/>
<rect x="453" y="265" width="5" height="8" fill="#000"/>
<rect x="458" y="265" width="1" height="7" fill="#000"/>
<rect x="456" y="265" width="5" height="7" fill="#000"/>
<rect x="457" y="266" width="3" height="5" fill="#fff"/>
<rect x="461" y="261" width="1" height="7" fill="#000"/>
<rect x="459" y="263" width="5" height="5" fill="#000"/>
<rect x="464" y="261" width="1" height="8" fill="#000"/>
<rect x="462" y="262" width="5" height="3" fill="#000"/>
<rect x="467" y="253" width="1" height="10" fill="#000"/>
<rect x="465" y="254" width="5" height="9" fill="#000"/>
<rect x="470" y="259" width="1" height="19" fill="#000"/>
<rect x="468" y="259" width="5" height="11" fill="#000"/>
<rect x="473" y="263" width="1" height="5" fill="#000"/>
<rect x="471" y="263" width="5" height="5" fill="#000"/>
<rect x="472" y="264" width="3" height="3" fill="#fff"/>
<rect x="476" y="263" width="1" height="6" fill="#000"/>
<rect x="474" y="263" width="5" height="6" fill="#000"/>
<rect x="479" y="269" width="1" height="16" fill="#000"/>
<rect x="477" y="269" width="5" height="7" fill="#000"/>
<rect x="482" y="272" width="1" height="13" fill="#000"/>
<rect x="480" y="272" width="5" height="10" fill="#000"/>
<rect x="485" y="274" width="1" height="14" fill="#000"/>
<rect x="483" y="274" width="5" height="14" fill="#000"/>
<rect x="488" y="275" width="1" height="13" fill="#000"/>
<rect x="486" y="275" width="5" height="13" fill="#000"/>
<rect x="491" y="276" width="1" height="14" fill="#000"/>
<rect x="489" y="276" width="5" height="12" fill="#000"/>
<rect x="490" y="277" width="3" height="10" fill="#fff"/>
<rect x="495" y="255" width="1" height="21" fill="#000"/>
<rect x="493" y="257" width="5" height="19" fill="#000"/>
<rect x="494" y="258" width="3" height="17" fill="#fff"/>
<rect x="498" y="251" width="1" height="6" fill="#000"/>
<rect x="496" y="251" width="5" height="3" fill="#000"/>
<rect x="497" y="252" width="3" height="1" fill="#fff"/>
<rect x="501" y="243" width="1" height="11" fill="#000"/>
<rect x="499" y="247" width="5" height="7" fill="#000"/>
<rect x="504" y="248" width="1" height="9" fill="#000"/>
<rect x="502" y="248" width="5" height="6" fill="#000"/>
<rect x="503" y="249" width="3" height="4" fill="#fff"/>
<rect x="507" y="244" width="1" height="6" fill="#000"/>
<rect x="505" y="244" width="5" height="6" fill="#000"/>
<rect x="506" y="245" width="3" height="4" fill="#fff"/>
<rect x="510" y="235" width="1" height="9" fill="#000"/>
<rect x="508" y="239" width="5" height="5" fill="#000"/>
<rect x="509" y="240" width="3" height="3" fill="#fff"/>
<rect x="513" y="239" width="1" height="5" fill="#000"/>
<rect x="511" y="239" width="5" height="5" fill="#000"/>
<rect x="516" y="236" width="1" height="14" fill="#000"/>
<rect x="514" y="236" width="5" height="13" fill="#000"/>
<rect x="519" y="243" width="1" height="5" fill="#000"/>
<rect x="517" y="243" width="5" height="5" fill="#000"/>
<rect x="518" y="244" width="3" height="3" fill="#fff"/>
<rect x="522" y="249" width="1" height="2" fill="#000"/>
<rect x="520" y="249" width="5" height="2" fill="#000"/>
<rect x="525" y="252" width="1" height="8" fill="#000"/>
<rect x="523" y="252" width="5" height="7" fill="#000"/>
<rect x="528" y="258" width="1" height="14" fill="#000"/>
<rect x="526" y="262" width="5" height="5" fill="#000"/>
<rect x="527" y="263" width="3" height="3" fill="#fff"/>
<rect x="531" y="259" width="1" height="9" fill="#000"/>
<rect x="529" y="260" width="5" height="6" fill="#000"/>
<rect x="530" y="261" width="3" height="4" fill="#fff"/>
<rect x="534" y="260" width="1" height="4" fill="#000"/>
<rect x="532" y="260" width="5" height="4" fill="#000"/>
<rect x="538" y="264" width="1" height="13" fill="#000"/>
<rect x="536" y="264" width="5" height="7" fill="#000"/>
<rect x="541" y="259" width="1" height="12" fill="#000"/>
<rect x="539" y="260" width="5" height="9" fill="#000"/>
<rect x="540" y="261" width="3" height="7" fill="#fff"/>
<rect x="544" y="248" width="1" height="10" fill="#000"/>
<rect x="542" y="251" width="5" height="7" fill="#000"/>
<rect x="543" y="252" width="3" height="5" fill="#fff"/>
<rect x="547" y="247" width="1" height="8" fill="#000"/>
<rect x="545" y="250" width="5" height="5" fill="#000"/>
<rect x="550" y="249" width="1" height="8" fill="#000"/>
<rect x="548" y="249" width="5" height="7" fill="#000"/>
<rect x="549" y="250" width="3" height="5" fill="#fff"/>
<rect x="553" y="244" width="1" height="9" fill="#000"/>
<rect x="551" y="247" width="5" height="2" fill="#000"/>
<rect x="556" y="239" width="1" height="5" fill="#000"/>
<rect x="554" y="243" width="5" height="1" fill="#000"/>
<rect x="559" y="236" width="1" height="9" fill="#000"/>
<rect x="557" y="236" width="5" height="9" fill="#000"/>
<rect x="558" y="237" width="3" height="7" fill="#fff"/>
<rect x="562" y="231" width="1" height="9" fill="#000"/>
<rect x="560" y="233" width="5" height="7" fill="#000"/>
<rect x="561" y="234" width="3" height="5" fill="#fff"/>
<rect x="565" y="233" width="1" height="5" fill="#000"/>
<rect x="563" y="233" width="5" height="5" fill="#000"/>
<rect x="568" y="241" width="1" height="10" fill="#000"/>
<rect x="566" y="241" width="5" height="4" fill="#000"/>
<rect x="571" y="234" width="1" height="10" fill="#000"/>
<rect x="569" y="239" width="5" height="5" fill="#000"/>
<rect x="570" y="240" width="3" height="3" fill="#fff"/>
<rect x="574" y="233" width="1" height="16" fill="#000"/>
<rect x="572" y="237" width="5" height="9" fill="#000"/>
<rect x="577" y="228" width="1" height="15" fill="#000"/>
<rect x="575" y="236" width="5" height="7" fill="#000"/>
<rect x="580" y="228" width="1" height="11" fill="#000"/>
<rect x="578" y="236" width="5" height="3" fill="#000"/>
<rect x="584" y="232" width="1" height="10" fill="#000"/>
<rect x="582" y="232" width="5" height="4" fill="#000"/>
<rect x="583" y="233" width="3" height="2" fill="#fff"/>
<rect x="587" y="228" width="1" height="11" fill="#000"/>
<rect x="585" y="230" width="5" height="9" fill="#000"/>
<rect x="590" y="227" width="1" height="10" fill="#000"/>
<rect x="588" y="230" width="5" height="7" fill="#000"/>
<rect x="593" y="231" width="1" height="11" fill="#000"/>
<rect x="591" y="231" width="5" height="11" fill="#000"/>
<rect x="596" y="233" width="1" height="11" fill="#000"/>
<rect x="594" y="233" width="5" height="11" fill="#000"/>
<rect x="599" y="237" width="1" height="12" fill="#000"/>
<rect x="597" y="237" width="5" height="12" fill="#000"/>
<rect x="602" y="241" width="1" height="12" fill="#000"/>
<rect x="600" y="241" width="5" height="8" fill="#000"/>
<rect x="605" y="239" width="1" height="12" fill="#000"/>
<rect x="603" y="245" width="5" height="3" fill="#000"/>
<rect x="604" y="246" width="3" height="1" fill="#fff"/>
<rect x="608" y="241" width="1" height="5" fill="#000"/>
<rect x="606" y="241" width="5" height="5" fill="#000"/>
<rect x="607" y="242" width="3" height="3" fill="#fff"/>
<rect x="611" y="239" width="1" height="20" fill="#000"/>
<rect x="609" y="239" width="5" height="19" fill="#000"/>
<rect x="614" y="252" width="1" height="5" fill="#000"/>
<rect x="612" y="252" width="5" height="5" fill="#000"/>
<rect x="613" y="253" width="3" height="3" fill="#fff"/>
<rect x="617" y="246" width="1" height="8" fill="#000"/>
<rect x="615" y="246" width="5" height="8" fill="#000"/>
<rect x="616" y="247" width="3" height="6" fill="#fff"/>
<rect x="620" y="242" width="1" height="3" fill="#000"/>
<rect x="618" y="242" width="5" height="3" fill="#000"/>
<rect x="619" y="243" width="3" height="1" fill="#fff"/>
<rect x="623" y="237" width="1" height="6" fill="#000"/>
<rect x="621" y="239" width="5" height="4" fill="#000"/>
<rect x="622" y="240" width="3" height="2" fill="#fff"/>
<rect x="626" y="231" width="1" height="5" fill="#000"/>
<rect x="624" y="233" width="5" height="3" fill="#000"/>
<rect x="625" y="234" width="3" height="1" fill="#fff"/>
<rect x="630" y="232" width="1" height="11" fill="#000"/>
<rect x="628" y="232" width="5" height="8" fill="#000"/>
<rect x="633" y="230" width="1" height="9" fill="#000"/>
<rect x="631" y="230" width="5" height="9" fill="#000"/>
<rect x="632" y="231" width="3" height="7" fill="#fff"/>
<rect x="636" y="224" width="1" height="6" fill="#000"/>
<rect x="634" y="225" width="5" height="5" fill="#000"/>
<rect x="635" y="226" width="3" height="3" fill="#fff"/>
<rect x="639" y="223" width="1" height="5" fill="#000"/>
<rect x="637" y="223" width="5" height="5" fill="#000"/>
<rect x="642" y="221" width="1" height="10" fill="#000"/>
<rect x="640" y="221" width="5" height="5" fill="#000"/>
<rect x="641" y="222" width="3" height="3" fill="#fff"/>
<rect x="645" y="222" width="1" height="5" fill="#000"/>
<rect x="643" y="222" width="5" height="5" fill="#000"/>
<rect x="648" y="224" width="1" height="7" fill="#000"/>
<rect x="646" y="224" width="5" height="7" fill="#000"/>
<rect x="651" y="225" width="1" height="8" fill="#000"/>
<rect x="649" y="225" width="5" height="7" fill="#000"/>
<rect x="654" y="222" width="1" height="8" fill="#000"/>
<rect x="652" y="225" width="5" height="5" fill="#000"/>
<rect x="653" y="226" width="3" height="3" fill="#fff"/>
<rect x="657" y="222" width="1" height="5" fill="#000"/>
<rect x="655" y="223" width="5" height="4" fill="#000"/>
<rect x="660" y="223" width="1" height="4" fill="#000"/>
<rect x="658" y="223" width="5" height="4" fill="#000"/>
<rect x="663" y="215" width="1" height="15" fill="#000"/>
<rect x="661" y="219" width="5" height="6" fill="#000"/>
<rect x="662" y="220" width="3" height="4" fill="#fff"/>
<rect x="666" y="219" width="1" height="16" fill="#000"/>
<rect x="664" y="219" width="5" height="5" fill="#000"/>
<rect x="669" y="220" width="1" height="10" fill="#000"/>
<rect x="667" y="220" width="5" height="4" fill="#000"/>
<rect x="673" y="225" width="1" height="14" fill="#000"/>
<rect x="671" y="228" width="5" height="11" fill="#000"/>
<rect x="676" y="229" width="1" height="12" fill="#000"/>
<rect x="674" y="229" width="5" height="12" fill="#000"/>
<rect x="675" y="230" width="3" height="10" fill="#fff"/>
<rect x="679" y="216" width="1" height="11" fill="#000"/>
<rect x="677" y="218" width="5" height="9" fill="#000"/>
<rect x="678" y="219" width="3" height="7" fill="#fff"/>
<rect x="682" y="216" width="1" height="13" fill="#000"/>
<rect x="680" y="219" width="5" height="9" fill="#000"/>
<rect x="685" y="221" width="1" height="8" fill="#000"/>
<rect x="683" y="221" width="5" height="6" fill="#000"/>
<rect x="684" y="222" width="3" height="4" fill="#fff"/>
<rect x="688" y="209" width="1" height="13" fill="#000"/>
<rect x="686" y="213" width="5" height="9" fill="#000"/>
<rect x="687" y="214" width="3" height="7" fill="#fff"/>
<rect x="691" y="212" width="1" height="5" fill="#000"/>
<rect x="689" y="212" width="5" height="5" fill="#000"/>
<rect x="694" y="206" width="1" height="11" fill="#000"/>
<rect x="692" y="207" width="5" height="10" fill="#000"/>
<rect x="693" y="208" width="3" height="8" fill="#fff"/>
<rect x="697" y="212" width="1" height="16" fill="#000"/>
<rect x="695" y="212" width="5" height="16" fill="#000"/>
<rect x="700" y="217" width="1" height="14" fill="#000"/>
<rect x="698" y="217" width="5" height="11" fill="#000"/>
<rect x="703" y="214" width="1" height="12" fill="#000"/>
<rect x="701" y="218" width="5" height="5" fill="#000"/>
<rect x="706" y="217" width="1" height="9" fill="#000"/>
<rect x="704" y="218" width="5" height="4" fill="#000"/>
<rect x="709" y="214" width="1" height="4" fill="#000"/>
<rect x="707" y="214" width="5" height="4" fill="#000"/>
<rect x="708" y="215" width="3" height="2" fill="#fff"/>
<rect x="712" y="205" width="1" height="10" fill="#000"/>
<rect x="710" y="205" width="5" height="10" fill="#000"/>
<rect x="711" y="206" width="3" height="8" fill="#fff"/>
<rect x="715" y="201" width="1" height="9" fill="#000"/>
<rect x="713" y="204" width="5" height="6" fill="#000"/>
<rect x="719" y="204" width="1" height="10" fill="#000"/>
<rect x="717" y="204" width="5" height="6" fill="#000"/>
<rect x="722" y="208" width="1" height="13" fill="#000"/>
<rect x="720" y="208" width="5" height="13" fill="#000"/>
<rect x="725" y="209" width="1" height="14" fill="#000"/>
<rect x="723" y="209" width="5" height="13" fill="#000"/>
<rect x="728" y="214" width="1" height="7" fill="#000"/>
<rect x="726" y="214" width="5" height="7" fill="#000"/>
<rect x="727" y="215" width="3" height="5" fill="#fff"/>
<rect x="731" y="195" width="1" height="18" fill="#000"/>
<rect x="729" y="199" width="5" height="12" fill="#000"/>
<rect x="730" y="200" width="3" height="10" fill="#fff"/>
<rect x="734" y="196" width="1" height="9" fill="#000"/>
<rect x="732" y="196" width="5" height="5" fill="#000"/>
<rect x="737" y="189" width="1" height="13" fill="#000"/>
<rect x="735" y="195" width="5" height="5" fill="#000"/>
<rect x="736" y="196" width="3" height="3" fill="#fff"/>
<rect x="740" y="195" width="1" height="8" fill="#000"/>
<rect x="738" y="195" width="5" height="4" fill="#000"/>
<rect x="743" y="183" width="1" height="14" fill="#000"/>
<rect x="741" y="183" width="5" height="14" fill="#000"/>
<rect x="742" y="184" width="3" height="12" fill="#fff"/>
<rect x="746" y="170" width="1" height="13" fill="#000"/>
<rect x="744" y="170" width="5" height="13" fill="#000"/>
<rect x="745" y="171" width="3" height="11" fill="#fff"/>
<rect x="749" y="155" width="1" height="15" fill="#000"/>
<rect x="747" y="155" width="5" height="15" fill="#000"/>
<rect x="748" y="156" width="3" height="13" fill="#fff"/>
<rect x="752" y="138" width="1" height="26" fill="#000"/>
<rect x="750" y="138" width="5" height="25" fill="#000"/>
<rect x="751" y="139" width="3" height="23" fill="#fff"/>
<rect x="755" y="129" width="1" height="9" fill="#000"/>
<rect x="753" y="129" width="5" height="9" fill="#000"/>
<rect x="758" y="136" width="1" height="16" fill="#000"/>
<rect x="756" y="136" width="5" height="15" fill="#000"/>
<rect x="761" y="123" width="1" height="18" fill="#000"/>
<rect x="759" y="127" width="5" height="14" fill="#000"/>
<rect x="760" y="128" width="3" height="12" fill="#fff"/>
<rect x="765" y="119" width="1" height="14" fill="#000"/>
<rect x="763" y="119" width="5" height="6" fill="#000"/>
<rect x="764" y="120" width="3" height="4" fill="#fff"/>
<rect x="768" y="112" width="1" height="8" fill="#000"/>
<rect x="766" y="112" width="5" height="8" fill="#000"/>
<rect x="767" y="113" width="3" height="6" fill="#fff"/>
<rect x="771" y="105" width="1" height="8" fill="#000"/>
<rect x="769" y="107" width="5" height="6" fill="#000"/>
<rect x="770" y="108" width="3" height="4" fill="#fff"/>
<rect x="774" y="105" width="1" height="16" fill="#000"/>
<rect x="772" y="110" width="5" height="5" fill="#000"/>
<rect x="777" y="106" width="1" height="12" fill="#000"/>
<rect x="775" y="108" width="5" height="3" fill="#000"/>
<rect x="776" y="109" width="3" height="1" fill="#fff"/>
<rect x="780" y="106" width="1" height="10" fill="#000"/>
<rect x="778" y="110" width="5" height="5" fill="#000"/>
<rect x="783" y="111" width="1" height="5" fill="#000"/>
<rect x="781" y="111" width="5" height="5" fill="#000"/>
<rect x="786" y="114" width="1" height="20" fill="#000"/>
<rect x="784" y="114" width="5" height="11" fill="#000"/>
<rect x="785" y="115" width="3" height="9" fill="#fff"/>
<rect x="789" y="111" width="1" height="8" fill="#000"/>
<rect x="787" y="115" width="5" height="4" fill="#000"/>
<rect x="792" y="128" width="1" height="18" fill="#000"/>
<rect x="790" y="128" width="5" height="11" fill="#000"/>
<rect x="795" y="134" width="1" height="12" fill="#000"/>
<rect x="793" y="134" width="5" height="9" fill="#000"/>
<rect x="794" y="135" width="3" height="7" fill="#fff"/>
<rect x="798" y="137" width="1" height="22" fill="#000"/>
<rect x="796" y="137" width="5" height="7" fill="#000"/>
<rect x="801" y="131" width="1" height="18" fill="#000"/>
<rect x="799" y="140" width="5" height="5" fill="#000"/>
<rect x="800" y="141" width="3" height="3" fill="#fff"/>
<rect x="804" y="131" width="1" height="10" fill="#000"/>
<rect x="802" y="136" width="5" height="5" fill="#000"/>
<rect x="803" y="137" width="3" height="3" fill="#fff"/>
<rect x="807" y="133" width="1" height="11" fill="#000"/>
<rect x="805" y="140" width="5" height="2" fill="#000"/>
<rect x="811" y="129" width="1" height="9" fill="#000"/>
<rect x="809" y="132" width="5" height="4" fill="#000"/>
<rect x="814" y="125" width="1" height="12" fill="#000"/>
<rect x="812" y="125" width="5" height="4" fill="#000"/>
<rect x="813" y="126" width="3" height="2" fill="#fff"/>
<rect x="817" y="118" width="1" height="8" fill="#000"/>
<rect x="815" y="118" width="5" height="8" fill="#000"/>
<rect x="820" y="127" width="1" height="4" fill="#000"/>
<rect x="818" y="127" width="5" height="4" fill="#000"/>
<rect x="819" y="128" width="3" height="2" fill="#fff"/>
<rect x="823" y="126" width="1" height="13" fill="#000"/>
<rect x="821" y="130" width="5" height="9" fill="#000"/>
<rect x="826" y="130" width="1" height="28" fill="#000"/>
<rect x="824" y="130" width="5" height="21" fill="#000"/>
<rect x="829" y="135" width="1" height="15" fill="#000"/>
<rect x="827" y="135" width="5" height="9" fill="#000"/>
<rect x="620" y="237" width="7" height="3" fill="#000"/>
<polyline points="62.5,227 65.57,240 68.64,234.5 71.7,236 74.77,231.5 77.84,226.5 80.91,228.5 83.98,223.5 87.04,252 90.11,272.5 93.18,279.5 96.25,284 99.32,255.5 102.38,268 105.45,264 108.52,260 111.59,265 114.66,269 117.72,261 120.79,276 123.86,256 126.93,252.5 130.0,252.5 133.06,251.5 136.13,253.5 139.2,251 142.27,286 145.34,272 148.4,270.5 151.47,274 154.54,277.5 157.61,267 160.68,259 163.74,257 166.81,249.5 169.88,253.5 172.95,254.5 176.02,248.5 179.08,242 182.15,249 185.22,247.5 188.29,259 191.36,264 194.42,264.5 197.49,258 200.56,270 203.63,265.5 206.7,269.5 209.76,273 212.83,265.5 215.9,279 218.97,282.5 222.04,279 225.1,311 228.17,303.5 231.24,309.5 234.31,307 237.38,319.5 240.44,317 243.51,309 246.58,302 249.65,305.5 252.72,300 255.78,297 258.85,301.5 261.92,301.5 264.99,298.5 268.06,295 271.12,289 274.19,290.5 277.26,287.5 280.33,300 283.4,296 286.46,298 289.53,293 292.6,291.5 295.67,291.5 298.74,292.5 301.8,290 304.87,286.5 307.94,290.5 311.01,293 314.08,287.5 317.14,285 320.21,290.5 323.28,278 326.35,279.5 329.42,278.5 332.48,282.5 335.55,276 338.62,276.5 341.69,261.5 344.76,261 347.82,263.5 350.89,266 353.96,271 357.03,259 360.1,255 363.16,254 366.23,256.5 369.3,260 372.37,257 375.44,253 378.5,256.5 381.57,269 384.64,261 387.71,266 390.78,263 393.84,261 396.91,266 399.98,256 403.05,255.5 406.12,261 409.18,265 412.25,269 415.32,275 418.39,262 421.46,257.5 424.52,255 427.59,254 430.66,259.5 433.73,264.5 436.8,260.5 439.86,257 442.93,257.5 446.0,268 449.07,260.5 452.14,259 455.2,264.5 458.27,257 461.34,258 464.41,259.5 467.48,256.5 470.54,267 473.61,260 476.68,257.5 479.75,260.5 482.82,259.5 485.88,263 488.95,272.5 492.02,254 495.09,242.5 498.16,240 501.22,241.5 504.29,240.5 507.36,232 510.43,225.5 513.5,228.5 516.56,231.5 519.63,227.5 522.7,237 525.77,243 528.84,245.5 531.9,240.5 534.97,242.5 538.04,246.5 541.11,239 544.18,232 547.24,235 550.31,230.5 553.38,226.5 556.45,221.5 559.52,213.5 562.58,212 565.65,216 568.72,220.5 571.79,215 574.86,216.5 577.92,212.5 580.99,210.5 584.06,206 587.13,212.5 590.2,207 593.26,209.5 596.33,218 599.4,224 602.47,224 605.54,222 608.6,218.5 611.67,231 614.74,223 617.81,219.5 620.88,217.5 623.94,213.5 627.01,210.8 630.08,217 633.15,205.5 636.22,201 639.28,201.5 642.35,192 645.42,197.5 648.49,201 651.56,203.5 654.62,198 657.69,197 660.76,199 663.83,191.5 666.9,193 669.96,199 673.03,211 676.1,198 679.17,192 682.24,194.5 685.3,189 688.37,179.5 691.44,180.5 694.51,174.5 697.58,194.5 700.64,191 703.71,188 706.78,188 709.85,190.5 712.92,187 715.98,194.5 719.05,193 722.12,191.5 725.19,197.5 728.26,188 731.32,174 734.39,168.5 737.46,166.5 740.53,167.5 743.6,156.5 746.66,148 749.73,136 752.8,123.5 755.87,120.5 758.94,136 762.0,104 765.07,98 768.14,91.5 771.21,87 774.28,85 777.34,89 780.41,87 783.48,87 786.55,88.5 789.62,87.5 792.68,108 795.75,106.5 798.82,108.5 801.89,107.5 804.96,104 808.02,103 811.09,98 814.16,88.5 817.23,89.5 820.3,89 823.36,102.5 826.43,114 829.5,108" fill="none" stroke="#ff0000" stroke-width="2" stroke-linejoin="miter"/>
<rect x="60" y="70" width="1" height="274" fill="#000"/>
<rect x="60" y="343" width="771" height="1" fill="#000"/>
<rect x="830" y="70" width="1" height="274" fill="#000"/>
<rect x="60" y="70" width="6" height="1" fill="#000"/>
<rect x="60" y="78" width="4" height="1" fill="#000"/>
<rect x="60" y="86" width="4" height="1" fill="#000"/>
<rect x="60" y="93" width="4" height="1" fill="#000"/>
<rect x="60" y="101" width="4" height="1" fill="#000"/>
<rect x="60" y="109" width="6" height="1" fill="#000"/>
<rect x="60" y="117" width="4" height="1" fill="#000"/>
<rect x="60" y="125" width="4" height="1" fill="#000"/>
<rect x="60" y="132" width="4" height="1" fill="#000"/>
<rect x="60" y="140" width="4" height="1" fill="#000"/>
<rect x="60" y="148" width="6" height="1" fill="#000"/>
<rect x="60" y="156" width="4" height="1" fill="#000"/>
<rect x="60" y="164" width="4" height="1" fill="#000"/>
<rect x="60" y="171" width="4" height="1" fill="#000"/>
<rect x="60" y="179" width="4" height="1" fill="#000"/>
<rect x="60" y="187" width="6" height="1" fill="#000"/>
<rect x="60" y="195" width="4" height="1" fill="#000"/>
<rect x="60" y="203" width="4" height="1" fill="#000"/>
<rect x="60" y="210" width="4" height="1" fill="#000"/>
<rect x="60" y="218" width="4" height="1" fill="#000"/>
<rect x="60" y="226" width="6" height="1" fill="#000"/>
<rect x="60" y="234" width="4" height="1" fill="#000"/>
<rect x="60" y="242" width="4" height="1" fill="#000"/>
<rect x="60" y="249" width="4" height="1" fill="#000"/>
<rect x="60" y="257" width="4" height="1" fill="#000"/>
<rect x="60" y="265" width="6" height="1" fill="#000"/>
<rect x="60" y="273" width="4" height="1" fill="#000"/>
<rect x="60" y="281" width="4" height="1" fill="#000"/>
<rect x="60" y="288" width="4" height="1" fill="#000"/>
<rect x="60" y="296" width="4" height="1" fill="#000"/>
<rect x="60" y="304" width="6" height="1" fill="#000"/>
<rect x="60" y="312" width="4" height="1" fill="#000"/>
<rect x="60" y="320" width="4" height="1" fill="#000"/>
<rect x="60" y="327" width="4" height="1" fill="#000"/>
<rect x="60" y="335" width="4" height="1" fill="#000"/>
<rect x="60" y="343" width="6" height="1" fill="#000"/>
<rect x="825" y="70" width="6" height="1" fill="#000"/>
<rect x="827" y="75" width="4" height="1" fill="#000"/>
<rect x="827" y="80" width="4" height="1" fill="#000"/>
<rect x="827" y="85" width="4" height="1" fill="#000"/>
<rect x="827" y="90" width="4" height="1" fill="#000"/>
<rect x="825" y="95" width="6" height="1" fill="#000"/>
<rect x="827" y="100" width="4" height="1" fill="#000"/>
<rect x="827" y="105" width="4" height="1" fill="#000"/>
<rect x="827" y="110" width="4" height="1" fill="#000"/>
<rect x="827" y="115" width="4" height="1" fill="#000"/>
<rect x="825" y="120" width="6" height="1" fill="#000"/>
<rect x="827" y="125" width="4" height="1" fill="#000"/>
<rect x="827" y="130" width="4" height="1" fill="#000"/>
<rect x="827" y="135" width="4" height="1" fill="#000"/>
<rect x="827" y="139" width="4" height="1" fill="#000"/>
<rect x="825" y="144" width="6" height="1" fill="#000"/>
<rect x="827" y="149" width="4" height="1" fill="#000"/>
<rect x="827" y="154" width="4" height="1" fill="#000"/>
<rect x="827" y="159" width="4" height="1" fill="#000"/>
<rect x="827" y="164" width="4" height="1" fill="#000"/>
<rect x="825" y="169" width="6" height="1" fill="#000"/>
<rect x="827" y="174" width="4" height="1" fill="#000"/>
<rect x="827" y="179" width="4" height="1" fill="#000"/>
<rect x="827" y="184" width="4" height="1" fill="#000"/>
<rect x="827" y="189" width="4" height="1" fill="#000"/>
<rect x="825" y="194" width="6" height="1" fill="#000"/>
<rect x="827" y="199" width="4" height="1" fill="#000"/>
<rect x="827" y="204" width="4" height="1" fill="#000"/>
<rect x="827" y="209" width="4" height="1" fill="#000"/>
<rect x="827" y="214" width="4" height="1" fill="#000"/>
<rect x="825" y="219" width="6" height="1" fill="#000"/>
<rect x="827" y="224" width="4" height="1" fill="#000"/>
<rect x="827" y="229" width="4" height="1" fill="#000"/>
<rect x="827" y="234" width="4" height="1" fill="#000"/>
<rect x="827" y="239" width="4" height="1" fill="#000"/>
<rect x="825" y="244" width="6" height="1" fill="#000"/>
<rect x="827" y="249" width="4" height="1" fill="#000"/>
<rect x="827" y="254" width="4" height="1" fill="#000"/>
<rect x="827" y="259" width="4" height="1" fill="#000"/>
<rect x="827" y="264" width="4" height="1" fill="#000"/>
<rect x="825" y="269" width="6" height="1" fill="#000"/>
<rect x="827" y="274" width="4" height="1" fill="#000"/>
<rect x="827" y="278" width="4" height="1" fill="#000"/>
<rect x="827" y="283" width="4" height="1" fill="#000"/>
<rect x="827" y="288" width="4" height="1" fill="#000"/>
<rect x="825" y="293" width="6" height="1" fill="#000"/>
<rect x="827" y="298" width="4" height="1" fill="#000"/>
<rect x="827" y="303" width="4" height="1" fill="#000"/>
<rect x="827" y="308" width="4" height="1" fill="#000"/>
<rect x="827" y="313" width="4" height="1" fill="#000"/>
<rect x="825" y="318" width="6" height="1" fill="#000"/>
<rect x="827" y="323" width="4" height="1" fill="#000"/>
<rect x="827" y="328" width="4" height="1" fill="#000"/>
<rect x="827" y="333" width="4" height="1" fill="#000"/>
<rect x="827" y="338" width="4" height="1" fill="#000"/>
<rect x="825" y="343" width="6" height="1" fill="#000"/>
<rect x="62" y="338" width="1" height="6" fill="#000"/>
<rect x="92" y="338" width="1" height="6" fill="#000"/>
<rect x="123" y="338" width="1" height="6" fill="#000"/>
<rect x="154" y="338" width="1" height="6" fill="#000"/>
<rect x="184" y="338" width="1" height="6" fill="#000"/>
<rect x="215" y="338" width="1" height="6" fill="#000"/>
<rect x="246" y="338" width="1" height="6" fill="#000"/>
<rect x="276" y="338" width="1" height="6" fill="#000"/>
<rect x="307" y="338" width="1" height="6" fill="#000"/>
<rect x="338" y="338" width="1" height="6" fill="#000"/>
<rect x="368" y="338" width="1" height="6" fill="#000"/>
<rect x="399" y="338" width="1" height="6" fill="#000"/>
<rect x="430" y="338" width="1" height="6" fill="#000"/>
<rect x="460" y="338" width="1" height="6" fill="#000"/>
<rect x="491" y="338" width="1" height="6" fill="#000"/>
<rect x="522" y="338" width="1" height="6" fill="#000"/>
<rect x="552" y="338" width="1" height="6" fill="#000"/>
<rect x="583" y="338" width="1" height="6" fill="#000"/>
<rect x="614" y="338" width="1" height="6" fill="#000"/>
<rect x="644" y="338" width="1" height="6" fill="#000"/>
<rect x="675" y="338" width="1" height="6" fill="#000"/>
<rect x="706" y="338" width="1" height="6" fill="#000"/>
<rect x="736" y="338" width="1" height="6" fill="#000"/>
<rect x="767" y="338" width="1" height="6" fill="#000"/>
<rect x="798" y="338" width="1" height="6" fill="#000"/>
<rect x="828" y="338" width="1" height="6" fill="#000"/>
<rect x="60" y="360" width="1" height="111" fill="#000"/>
<rect x="60" y="470" width="771" height="1" fill="#000"/>
<rect x="60" y="470" width="6" height="1" fill="#000"/>
<rect x="60" y="460" width="4" height="1" fill="#000"/>
<rect x="60" y="450" width="4" height="1" fill="#000"/>
<rect x="60" y="440" width="4" height="1" fill="#000"/>
<rect x="60" y="431" width="4" height="1" fill="#000"/>
<rect x="60" y="421" width="6" height="1" fill="#000"/>
<rect x="60" y="411" width="4" height="1" fill="#000"/>
<rect x="60" y="401" width="4" height="1" fill="#000"/>
<rect x="60" y="391" width="4" height="1" fill="#000"/>
<rect x="60" y="381" width="4" height="1" fill="#000"/>
<rect x="60" y="372" width="6" height="1" fill="#000"/>
<rect x="60" y="362" width="4" height="1" fill="#000"/>
<rect x="60" y="465" width="1" height="6" fill="#000"/>
<rect x="91" y="465" width="1" height="6" fill="#000"/>
<rect x="121" y="465" width="1" height="6" fill="#000"/>
<rect x="152" y="465" width="1" height="6" fill="#000"/>
<rect x="183" y="465" width="1" height="6" fill="#000"/>
<rect x="213" y="465" width="1" height="6" fill="#000"/>
<rect x="244" y="465" width="1" height="6" fill="#000"/>
<rect x="275" y="465" width="1" height="6" fill="#000"/>
<rect x="305" y="465" width="1" height="6" fill="#000"/>
<rect x="336" y="465" width="1" height="6" fill="#000"/>
<rect x="367" y="465" width="1" height="6" fill="#000"/>
<rect x="397" y="465" width="1" height="6" fill="#000"/>
<rect x="428" y="465" width="1" height="6" fill="#000"/>
<rect x="459" y="465" width="1" height="6" fill="#000"/>
<rect x="489" y="465" width="1" height="6" fill="#000"/>
<rect x="520" y="465" width="1" height="6" fill="#000"/>
<rect x="551" y="465" width="1" height="6" fill="#000"/>
<rect x="581" y="465" width="1" height="6" fill="#000"/>
<rect x="612" y="465" width="1" height="6" fill="#000"/>
<rect x="643" y="465" width="1" height="6" fill="#000"/>
<rect x="674" y="465" width="1" height="6" fill="#000"/>
<rect x="704" y="465" width="1" height="6" fill="#000"/>
<rect x="735" y="465" width="1" height="6" fill="#000"/>
<rect x="766" y="465" width="1" height="6" fill="#000"/>
<rect x="796" y="465" width="1" height="6" fill="#000"/>
<rect x="827" y="465" width="1" height="6" fill="#000"/>
</svg>
<div id="lg"></div>
<svg width="900" height="550" viewBox="0 0 900 550" shape-rendering="crispEdges"><rect x="209" y="28" width="11" height="11" fill="#484848"/><rect x="210" y="29" width="9" height="9" fill="#000"/><rect x="206" y="52" width="17" height="2" fill="#ff0000"/></svg>
<div id="txt">
<div class="tl" style="top:64px">80</div><div class="tl" style="top:103px">75</div><div class="tl" style="top:142px">70</div><div class="tl" style="top:181px">65</div><div class="tl" style="top:220px">60</div><div class="tl" style="top:259px">55</div><div class="tl" style="top:298px">50</div><div class="tl" style="top:337px">45</div><div class="tr" style="top:64.00px">12000</div><div class="tr" style="top:88.82px">11500</div><div class="tr" style="top:113.64px">11000</div><div class="tr" style="top:138.45px">10500</div><div class="tr" style="top:163.27px">10000</div><div class="tr" style="top:188.09px">9500</div><div class="tr" style="top:212.91px">9000</div><div class="tr" style="top:237.73px">8500</div><div class="tr" style="top:262.55px">8000</div><div class="tr" style="top:287.36px">7500</div><div class="tr" style="top:312.18px">7000</div><div class="tr" style="top:337.00px">6500</div><div class="tl" style="top:366px">10M</div><div class="tl" style="top:415px">5M</div><div class="tl" style="top:464px">0M</div><div class="dt" style="left:62.60px">2025-3-24</div><div class="dt" style="left:93.27px">2025-4-7</div><div class="dt" style="left:123.94px">2025-4-22</div><div class="dt" style="left:154.61px">2025-5-6</div><div class="dt" style="left:185.28px">2025-5-20</div><div class="dt" style="left:215.95px">2025-6-4</div><div class="dt" style="left:246.62px">2025-6-18</div><div class="dt" style="left:277.29px">2025-7-3</div><div class="dt" style="left:307.96px">2025-7-18</div><div class="dt" style="left:338.63px">2025-8-1</div><div class="dt" style="left:369.30px">2025-8-15</div><div class="dt" style="left:399.97px">2025-8-29</div><div class="dt" style="left:430.64px">2025-9-15</div><div class="dt" style="left:461.31px">2025-9-29</div><div class="dt" style="left:491.98px">2025-10-13</div><div class="dt" style="left:522.65px">2025-10-27</div><div class="dt" style="left:553.32px">2025-11-10</div><div class="dt" style="left:583.99px">2025-11-24</div><div class="dt" style="left:614.66px">2025-12-9</div><div class="dt" style="left:645.33px">2025-12-23</div><div class="dt" style="left:676.00px">2026-1-8</div><div class="dt" style="left:706.67px">2026-1-23</div><div class="dt" style="left:737.34px">2026-2-6</div><div class="dt" style="left:768.01px">2026-2-23</div><div class="dt" style="left:798.68px">2026-3-9</div><div class="dt" style="left:829.35px">2026-3-23</div>
<div class="jp" style="left:30px;top:39px">単位:ドル</div>
<div class="jp" style="left:810px;top:39px">単位:円</div>
<div class="lt" style="top:25px">エジソン・インターナショナル<span class="en"> (Edison International)</span>のドルベースの株価</div>
<div class="lt" style="top:44px">エジソン・インターナショナル<span class="en"> (Edison International)</span>の円ベースの株価</div>
</div>
</div>
</body></html>
